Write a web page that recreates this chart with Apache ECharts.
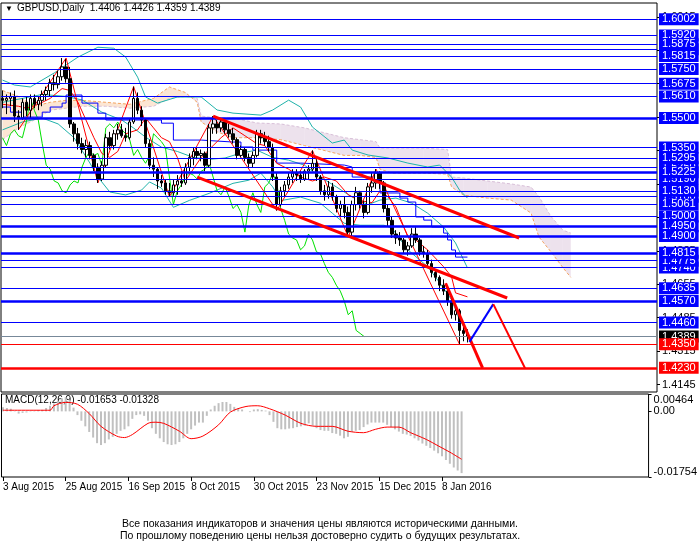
<!DOCTYPE html>
<html>
<head>
<meta charset="utf-8">
<title>GBPUSD Daily</title>
<script src="https://cdn.jsdelivr.net/npm/echarts@6.0.0/dist/echarts.min.js"></script>
<style>
html, body { margin: 0; padding: 0; background: #fff; }
#chart { width: 700px; height: 552px; }
</style>
</head>
<body>
<div id="chart"></div>
<script>
// daily bars from 3 Aug 2015: [open, high, low, close]
var ohlc = [
	[1.5600, 1.5640, 1.5550, 1.5590], [1.5590, 1.5620, 1.5520, 1.5600], [1.5600, 1.5630, 1.5560, 1.5610],
	[1.5610, 1.5640, 1.5480, 1.5510], [1.5510, 1.5540, 1.5440, 1.5500], [1.5500, 1.5600, 1.5490, 1.5580],
	[1.5580, 1.5610, 1.5510, 1.5540], [1.5540, 1.5620, 1.5500, 1.5600], [1.5600, 1.5620, 1.5550, 1.5570],
	[1.5570, 1.5610, 1.5540, 1.5590], [1.5590, 1.5640, 1.5560, 1.5620], [1.5620, 1.5660, 1.5590, 1.5640],
	[1.5640, 1.5700, 1.5610, 1.5680], [1.5680, 1.5720, 1.5640, 1.5670], [1.5670, 1.5740, 1.5650, 1.5710],
	[1.5710, 1.5805, 1.5690, 1.5760], [1.5760, 1.5800, 1.5680, 1.5700], [1.5700, 1.5760, 1.5450, 1.5470],
	[1.5470, 1.5480, 1.5380, 1.5420], [1.5420, 1.5450, 1.5340, 1.5370], [1.5370, 1.5400, 1.5320, 1.5340],
	[1.5340, 1.5390, 1.5300, 1.5360], [1.5360, 1.5380, 1.5290, 1.5310], [1.5310, 1.5320, 1.5230, 1.5250],
	[1.5250, 1.5270, 1.5170, 1.5190], [1.5190, 1.5280, 1.5180, 1.5260], [1.5260, 1.5420, 1.5250, 1.5400],
	[1.5400, 1.5430, 1.5340, 1.5360], [1.5360, 1.5440, 1.5340, 1.5420], [1.5420, 1.5470, 1.5390, 1.5440],
	[1.5440, 1.5470, 1.5400, 1.5410], [1.5410, 1.5450, 1.5380, 1.5400], [1.5400, 1.5500, 1.5390, 1.5480],
	[1.5480, 1.5660, 1.5470, 1.5600], [1.5600, 1.5630, 1.5520, 1.5540], [1.5540, 1.5560, 1.5460, 1.5490],
	[1.5490, 1.5500, 1.5350, 1.5370], [1.5370, 1.5390, 1.5240, 1.5260], [1.5260, 1.5300, 1.5200, 1.5240],
	[1.5240, 1.5250, 1.5140, 1.5180], [1.5180, 1.5210, 1.5150, 1.5170], [1.5170, 1.5190, 1.5110, 1.5130],
	[1.5130, 1.5170, 1.5100, 1.5120], [1.5120, 1.5190, 1.5105, 1.5160], [1.5160, 1.5210, 1.5110, 1.5180],
	[1.5180, 1.5230, 1.5150, 1.5170], [1.5170, 1.5270, 1.5160, 1.5250], [1.5250, 1.5320, 1.5230, 1.5300],
	[1.5300, 1.5350, 1.5260, 1.5330], [1.5330, 1.5350, 1.5290, 1.5310], [1.5310, 1.5340, 1.5280, 1.5320],
	[1.5320, 1.5330, 1.5230, 1.5260], [1.5260, 1.5470, 1.5250, 1.5450], [1.5450, 1.5510, 1.5420, 1.5470],
	[1.5470, 1.5490, 1.5420, 1.5450], [1.5450, 1.5500, 1.5430, 1.5480], [1.5480, 1.5490, 1.5420, 1.5440],
	[1.5440, 1.5470, 1.5400, 1.5420], [1.5420, 1.5450, 1.5370, 1.5390], [1.5390, 1.5400, 1.5290, 1.5310],
	[1.5310, 1.5360, 1.5300, 1.5340], [1.5340, 1.5350, 1.5280, 1.5300], [1.5300, 1.5320, 1.5245, 1.5270],
	[1.5270, 1.5330, 1.5250, 1.5310], [1.5310, 1.5440, 1.5300, 1.5420], [1.5420, 1.5440, 1.5370, 1.5400],
	[1.5400, 1.5430, 1.5360, 1.5380], [1.5380, 1.5410, 1.5330, 1.5350], [1.5350, 1.5370, 1.5180, 1.5200],
	[1.5200, 1.5220, 1.5030, 1.5060], [1.5060, 1.5150, 1.5050, 1.5130], [1.5130, 1.5180, 1.5100, 1.5160],
	[1.5160, 1.5220, 1.5140, 1.5200], [1.5200, 1.5240, 1.5170, 1.5220], [1.5220, 1.5240, 1.5180, 1.5210],
	[1.5210, 1.5230, 1.5170, 1.5190], [1.5190, 1.5240, 1.5180, 1.5230], [1.5230, 1.5260, 1.5190, 1.5240],
	[1.5240, 1.5335, 1.5230, 1.5270], [1.5270, 1.5290, 1.5180, 1.5200], [1.5200, 1.5210, 1.5110, 1.5130],
	[1.5130, 1.5160, 1.5080, 1.5110], [1.5110, 1.5180, 1.5090, 1.5150], [1.5150, 1.5170, 1.5080, 1.5100],
	[1.5100, 1.5110, 1.5020, 1.5040], [1.5040, 1.5080, 1.5000, 1.5060], [1.5060, 1.5100, 1.4990, 1.5020],
	[1.5020, 1.5050, 1.4895, 1.4920], [1.4920, 1.5080, 1.4900, 1.5060], [1.5060, 1.5150, 1.5030, 1.5120],
	[1.5120, 1.5130, 1.5040, 1.5060], [1.5060, 1.5080, 1.4990, 1.5020], [1.5020, 1.5170, 1.5010, 1.5150],
	[1.5150, 1.5220, 1.5120, 1.5170], [1.5170, 1.5240, 1.5140, 1.5220], [1.5220, 1.5230, 1.5140, 1.5170],
	[1.5170, 1.5180, 1.5020, 1.5040], [1.5040, 1.5060, 1.4950, 1.4980], [1.4980, 1.5000, 1.4890, 1.4910],
	[1.4910, 1.4930, 1.4860, 1.4890], [1.4890, 1.4920, 1.4850, 1.4880], [1.4880, 1.4890, 1.4810, 1.4830],
	[1.4830, 1.4870, 1.4800, 1.4850], [1.4850, 1.4940, 1.4840, 1.4910], [1.4910, 1.4945, 1.4865, 1.4880],
	[1.4880, 1.4890, 1.4800, 1.4820], [1.4820, 1.4850, 1.4790, 1.4810], [1.4810, 1.4830, 1.4745, 1.4760],
	[1.4760, 1.4780, 1.4690, 1.4715], [1.4715, 1.4730, 1.4670, 1.4690], [1.4690, 1.4700, 1.4620, 1.4650],
	[1.4650, 1.4680, 1.4600, 1.4620], [1.4620, 1.4630, 1.4545, 1.4570], [1.4570, 1.4580, 1.4480, 1.4500],
	[1.4500, 1.4540, 1.4470, 1.4520], [1.4520, 1.4530, 1.4350, 1.4420], [1.4420, 1.4440, 1.4365, 1.4405],
	[1.4406, 1.4426, 1.4359, 1.4389]
];

var dateTicks = [0, 16, 32, 48, 64, 80, 96, 112];
var dateLabels = ['3 Aug 2015', '25 Aug 2015', '16 Sep 2015', '8 Oct 2015', '30 Oct 2015', '23 Nov 2015', '15 Dec 2015', '8 Jan 2016'];
var priceTicks = [1.4145, 1.4315, 1.4485, 1.4655, 1.4825, 1.4995, 1.5165, 1.5335, 1.5505, 1.5675, 1.5845, 1.6015];
var macdTicks = [-0.01754, 0, 0.00464];

// horizontal levels
var blueLevels = [1.5850, 1.5250, 1.5100, 1.6002, 1.5920, 1.5875, 1.5815, 1.5750, 1.5675, 1.5610, 1.5350, 1.5295,
	1.5190, 1.5130, 1.5061, 1.5000, 1.4740, 1.4775, 1.4635, 1.4460];
var blueLevelsBold = [1.5500, 1.5225, 1.4950, 1.4900, 1.4815, 1.4570];
var redLevels = [1.4350];
var redLevelsBold = [1.4230];
var lastPrice = 1.4389;

// trend lines [bar, price]
var channelUpper = [[53, 1.5510], [130, 1.4890]];
var channelLower = [[49, 1.5200], [127, 1.4585]];
var steepLine = [[111.5, 1.4660], [120.8, 1.4230]];
var projUp = [[117.5, 1.4362], [123.5, 1.4554]];
var projDown = [[123.5, 1.4554], [131.5, 1.4228]];

var zigzag = [[4, 1.5440], [16, 1.5805], [24, 1.5170], [33, 1.5660], [42, 1.5100], [53, 1.5510], [69, 1.5030],
	[78, 1.5335], [87, 1.4895], [94, 1.5240], [115, 1.4350]];

// Bollinger bands
var bbUpper = [[0, 1.5693], [3, 1.5668], [7, 1.5658], [13, 1.5729], [19, 1.5810], [24, 1.5860], [28, 1.5855],
	[31, 1.5810], [34, 1.5708], [36, 1.5607], [39, 1.5576], [44, 1.5607], [50, 1.5607], [54, 1.5541], [58, 1.5525],
	[65, 1.5515], [68, 1.5541], [72, 1.5591], [75, 1.5556], [78, 1.5454], [83, 1.5373], [86, 1.5388], [88, 1.5337],
	[92, 1.5312], [97, 1.5297], [102, 1.5271], [107, 1.5251], [110, 1.5261], [113, 1.5200], [115, 1.5134], [117, 1.5093]];
var bbMiddle = [[0, 1.5580], [5, 1.5600], [10, 1.5620], [16, 1.5610], [20, 1.5592], [25, 1.5530], [30, 1.5490],
	[33, 1.5449], [36, 1.5403], [40, 1.5352], [44, 1.5330], [48, 1.5300], [52, 1.5290], [56, 1.5297], [60, 1.5322],
	[64, 1.5337], [68, 1.5300], [72, 1.5286], [76, 1.5260], [80, 1.5200], [84, 1.5150], [88, 1.5098], [92, 1.5060],
	[95, 1.5083], [99, 1.5093], [103, 1.5067], [107, 1.5016], [111, 1.4946], [114, 1.4865], [117, 1.4738]];
var bbLower = [[0, 1.5440], [5, 1.5480], [10, 1.5500], [14, 1.5470], [18, 1.5400], [22, 1.5271], [24, 1.5200],
	[27, 1.5124], [31, 1.5109], [35, 1.5134], [37, 1.5175], [40, 1.5144], [43, 1.5046], [47, 1.5081], [52, 1.5117],
	[58, 1.5168], [62, 1.5184], [65, 1.5220], [68, 1.5150], [70, 1.5080], [75, 1.5098], [80, 1.5067], [83, 1.5016],
	[86, 1.4965], [90, 1.4955], [96, 1.4955], [98, 1.4940], [102, 1.4830], [107, 1.4744], [110, 1.4663],
	[113, 1.4576], [115, 1.4474], [117, 1.4408]];

// Ichimoku
var tenkan = [[0, 1.5570], [4, 1.5560], [6, 1.5550], [9, 1.5570], [12, 1.5600], [15, 1.5650], [17, 1.5640],
	[19, 1.5580], [21, 1.5490], [23, 1.5400], [25, 1.5320], [27, 1.5300], [29, 1.5330], [31, 1.5420], [34, 1.5440],
	[36, 1.5500], [38, 1.5450], [40, 1.5400], [42, 1.5380], [44, 1.5300], [46, 1.5180], [48, 1.5240], [50, 1.5300],
	[53, 1.5360], [55, 1.5400], [58, 1.5450], [61, 1.5410], [64, 1.5370], [66, 1.5360], [69, 1.5270], [72, 1.5240],
	[75, 1.5200], [78, 1.5180], [81, 1.5200], [84, 1.5180], [87, 1.5110], [90, 1.5080], [93, 1.5070], [95, 1.5130],
	[97, 1.5100], [99, 1.5048], [102, 1.4896], [104, 1.4880], [107, 1.4829], [111, 1.4744], [113, 1.4693],
	[114, 1.4611], [117, 1.4591]];
var kijun = [[0, 1.5556], [2, 1.5530], [5, 1.5505], [8, 1.5505], [10, 1.5530], [12, 1.5556], [15, 1.5576],
	[16, 1.5617], [18, 1.5617], [20, 1.5576], [24, 1.5525], [26, 1.5490], [37, 1.5490], [40, 1.5474], [43, 1.5388],
	[50, 1.5378], [58, 1.5378], [60, 1.5353], [63, 1.5337], [69, 1.5271], [75, 1.5261], [86, 1.5251], [88, 1.5200],
	[94, 1.5185], [95, 1.5119], [100, 1.5093], [102, 1.5073], [104, 1.4997], [106, 1.4981], [108, 1.4946],
	[111, 1.4915], [112, 1.4880], [113, 1.4829], [114, 1.4793], [117, 1.4793]];
var cloudBars = [0, 4, 8, 12, 16, 20, 26, 32, 38, 42, 46, 49, 50, 54, 58, 64, 70, 76, 82, 86, 90, 94, 95, 98,
	106, 112, 113, 116, 122, 128, 133, 135, 138, 141, 143];
var spanA = [1.5640, 1.5610, 1.5560, 1.5580, 1.5590, 1.5590, 1.5580, 1.5570, 1.5600, 1.5658, 1.5630, 1.5580,
	1.5480, 1.5430, 1.5400, 1.5400, 1.5390, 1.5360, 1.5330, 1.5310, 1.5310, 1.5300, 1.5240, 1.5220,
	1.5220, 1.5215, 1.5150, 1.5108, 1.5093, 1.5083, 1.5017, 1.4895, 1.4820, 1.4740, 1.4690];
var spanB = [1.5390, 1.5450, 1.5490, 1.5540, 1.5550, 1.5560, 1.5560, 1.5550, 1.5560, 1.5600, 1.5610, 1.5600,
	1.5510, 1.5500, 1.5500, 1.5475, 1.5470, 1.5450, 1.5420, 1.5400, 1.5390, 1.5380, 1.5347, 1.5347,
	1.5347, 1.5340, 1.5200, 1.5195, 1.5180, 1.5165, 1.5149, 1.5100, 1.5000, 1.4930, 1.4915];
var chikouShift = 26;

// MACD(12,26,9)
var macdMain = [0.0011, 0.0009, 0.0007, 0.0001, -0.0006, -0.0004, -0.0003, -0.0001, 0.0001, 0.0003,
	0.0004, 0.0009, 0.0015, 0.0021, 0.0028, 0.0035, 0.0038, 0.0030, 0.0010, -0.0010,
	-0.0025, -0.0040, -0.0055, -0.0070, -0.0085, -0.0090, -0.0085, -0.0075, -0.0068, -0.0060,
	-0.0052, -0.0048, -0.0040, -0.0020, -0.0010, -0.0008, -0.0012, -0.0025, -0.0045, -0.0060,
	-0.0072, -0.0082, -0.0088, -0.0090, -0.0088, -0.0082, -0.0072, -0.0060, -0.0048, -0.0038,
	-0.0030, -0.0030, -0.0012, 0.0005, 0.0015, 0.0022, 0.0025, 0.0025, 0.0020, 0.0012,
	0.0008, 0.0005, 0.0000, -0.0002, 0.0005, 0.0006, 0.0004, 0.0002, -0.0010, -0.0028,
	-0.0045, -0.0048, -0.0048, -0.0046, -0.0045, -0.0042, -0.0040, -0.0038, -0.0032, -0.0038,
	-0.0045, -0.0050, -0.0052, -0.0052, -0.0058, -0.0060, -0.0065, -0.0072, -0.0068, -0.0055,
	-0.0052, -0.0050, -0.0042, -0.0035, -0.0030, -0.0030, -0.0030, -0.0030, -0.0036, -0.0042,
	-0.0048, -0.0054, -0.0060, -0.0062, -0.0066, -0.0072, -0.0078, -0.0086, -0.0092, -0.0098,
	-0.0105, -0.0112, -0.0120, -0.0130, -0.0140, -0.0150, -0.0158, -0.0165];
var macdSignal = [[0, 0.0003], [12, 0.0003], [13, 0.0015], [16, 0.0024], [19, 0.0019], [22, -0.0006],
	[25, -0.0040], [29, -0.0066], [31, -0.0070], [33, -0.0062], [37, -0.0032], [39, -0.0029], [41, -0.0032],
	[45, -0.0053], [48, -0.0073], [51, -0.0066], [55, -0.0036], [58, -0.0002], [62, 0.0013], [65, 0.0015],
	[68, 0.0007], [72, -0.0010], [76, -0.0032], [80, -0.0040], [84, -0.0040], [88, -0.0053], [92, -0.0057],
	[95, -0.0048], [98, -0.0042], [101, -0.0042], [104, -0.0057], [108, -0.0075], [111, -0.0092],
	[114, -0.0109], [117, -0.0128]];

var FONT = 'Liberation Sans';
var xMin = -0.38, xMax = 164.7;

function fmt4(v) { return v.toFixed(4); }

function level(price, color, width, boxColor) {
	return {
		yAxis: price,
		lineStyle: { color: color, width: width, type: 'solid' },
		label: { backgroundColor: boxColor || color, color: '#fff' }
	};
}

// drawn in order, later boxes sit on top
var levelData = [level(lastPrice, '#778899', 1, '#000000')];
blueLevels.forEach(function(p) { levelData.push(level(p, '#0000ff', 1)); });
blueLevelsBold.forEach(function(p) { levelData.push(level(p, '#0000ff', 2.5)); });
redLevels.forEach(function(p) { levelData.push(level(p, '#ff0000', 1)); });
redLevelsBold.forEach(function(p) { levelData.push(level(p, '#ff0000', 2.5)); });

function line(data, color, width, extra) {
	var s = {
		type: 'line',
		xAxisIndex: 0,
		yAxisIndex: 0,
		data: data,
		symbol: 'none',
		silent: true,
		lineStyle: { color: color, width: width },
		z: 3
	};
	for(var k in extra) s[k] = extra[k];
	return s;
}

var chikou = ohlc.slice(chikouShift).map(function(r, i) { return [i, r[3]]; });
var cloudData = cloudBars.slice(0, -1).map(function(b, i) { return [b, spanA[i], i]; });

var myChart = echarts.init(document.getElementById('chart'));
var last = ohlc[ohlc.length - 1];

var option = {
	backgroundColor: '#fff',
	animation: false,
	grid: [
		{ left: 1, top: 3, width: 656, height: 389, show: true, borderColor: '#000', borderWidth: 1, backgroundColor: '#fff' },
		{ left: 1, top: 394, width: 656, height: 83, show: true, borderColor: '#000', borderWidth: 1, backgroundColor: '#fff' }
	],
	xAxis: [
		{ type: 'value', gridIndex: 0, min: xMin, max: xMax, show: false },
		{
			type: 'value', gridIndex: 1, min: xMin, max: xMax,
			splitLine: { show: false },
			axisLine: { show: false, onZero: false },
			axisTick: { show: true, length: 4, customValues: dateTicks, lineStyle: { color: '#000' } },
			axisLabel: {
				customValues: dateTicks,
				formatter: function(v) { return dateLabels[dateTicks.indexOf(v)] || ''; },
				color: '#000', fontFamily: FONT, fontSize: 10, align: 'left', margin: 5
			}
		}
	],
	yAxis: [
		{
			type: 'value', gridIndex: 0, position: 'right', min: 1.4107, max: 1.6085,
			splitLine: { show: false },
			axisLine: { show: false, onZero: false },
			axisTick: { show: true, length: 3, customValues: priceTicks, lineStyle: { color: '#000' } },
			axisLabel: { customValues: priceTicks, formatter: fmt4, color: '#000', fontFamily: FONT, fontSize: 11, margin: 5 }
		},
		{
			type: 'value', gridIndex: 1, position: 'right', min: -0.01754, max: 0.00464,
			splitLine: { show: false },
			axisLine: { show: false, onZero: false },
			axisTick: { show: true, length: 3, customValues: macdTicks, lineStyle: { color: '#000' } },
			axisLabel: {
				customValues: macdTicks,
				formatter: function(v) { return v === 0 ? '0.00' : v.toFixed(5); },
				color: '#000', fontFamily: FONT, fontSize: 11, margin: 5,
				verticalAlignMaxLabel: 'top', verticalAlignMinLabel: 'bottom'
			}
		}
	],
	graphic: [
		{ type: 'text', left: 5, top: 5, style: { text: '▼', fontSize: 8, fill: '#000' } },
		{
			type: 'text', left: 17, top: 3,
			style: {
				text: 'GBPUSD,Daily  ' + last.map(fmt4).join(' '),
				fontFamily: FONT, fontSize: 10, fill: '#000'
			}
		},
		{
			type: 'text', left: 5, top: 395,
			style: { text: 'MACD(12,26,9) -0.01653 -0.01328', fontFamily: FONT, fontSize: 10, fill: '#000' }
		},
		{
			type: 'text', x: 320, y: 519,
			style: {
				text: 'Все показания индикаторов и значения цены являются историческими данными.',
				fontFamily: FONT, fontSize: 10.5, fill: '#000', textAlign: 'center'
			}
		},
		{
			type: 'text', x: 320, y: 531,
			style: {
				text: 'По прошлому поведению цены нельзя достоверно судить о будущих результатах.',
				fontFamily: FONT, fontSize: 10.5, fill: '#000', textAlign: 'center'
			}
		}
	],
	series: [
		// kumo
		{
			type: 'custom',
			xAxisIndex: 0,
			yAxisIndex: 0,
			data: cloudData,
			silent: true,
			z: 1,
			renderItem: function(params, api) {
				var i = api.value(2);
				var a0 = api.coord([cloudBars[i], spanA[i]]);
				var a1 = api.coord([cloudBars[i + 1], spanA[i + 1]]);
				var b1 = api.coord([cloudBars[i + 1], spanB[i + 1]]);
				var b0 = api.coord([cloudBars[i], spanB[i]]);
				var up = spanA[i] + spanA[i + 1] > spanB[i] + spanB[i + 1];
				return {
					type: 'polygon',
					shape: { points: [a0, a1, b1, b0] },
					style: { fill: up ? 'rgba(244,164,96,0.28)' : 'rgba(216,191,216,0.45)' }
				};
			}
		},
		line(cloudBars.map(function(b, i) { return [b, spanA[i]]; }), '#f4a460', 1, { lineStyle: { color: '#f4a460', width: 1, type: [3, 2] } }),
		line(cloudBars.map(function(b, i) { return [b, spanB[i]]; }), '#d8bfd8', 1, { lineStyle: { color: '#d8bfd8', width: 1, type: [3, 2] } }),
		line(bbUpper, '#20b2aa', 1),
		line(bbMiddle, '#20b2aa', 1),
		line(bbLower, '#20b2aa', 1),
		line(chikou, '#00e000', 1),
		line(kijun, '#0000ff', 1, { step: 'end' }),
		line(tenkan, '#ff0000', 1),
		line(zigzag, '#ff0000', 1),
		{
			type: 'candlestick',
			xAxisIndex: 0,
			yAxisIndex: 0,
			data: ohlc.map(function(r, i) { return [i, r[0], r[3], r[2], r[1]]; }),
			encode: { x: 0, y: [1, 2, 3, 4] },
			barWidth: 3,
			silent: true,
			z: 4,
			itemStyle: { color: '#fff', color0: '#000', borderColor: '#000', borderColor0: '#000', borderWidth: 1 },
			markLine: {
				silent: true,
				symbol: ['none', 'none'],
				animation: false,
				precision: 4,
				label: {
					show: true,
					position: 'end',
					distance: 2,
					formatter: function(p) { return fmt4(p.value); },
					fontFamily: FONT,
					fontSize: 11,
					lineHeight: 11,
					padding: [1, 3, 0, 3]
				},
				data: levelData
			}
		},
		line(channelUpper, '#ff0000', 3, { z: 6 }),
		line(channelLower, '#ff0000', 3, { z: 6 }),
		line(steepLine, '#ff0000', 3, { z: 6 }),
		line(projUp, '#0000ff', 2, { z: 6 }),
		line(projDown, '#ff0000', 2, { z: 6 }),
		{
			type: 'bar',
			xAxisIndex: 1,
			yAxisIndex: 1,
			data: macdMain.map(function(v, i) { return [i, v]; }),
			barWidth: 2,
			silent: true,
			itemStyle: { color: '#c0c0c0' }
		},
		{
			type: 'line',
			xAxisIndex: 1,
			yAxisIndex: 1,
			data: macdSignal,
			symbol: 'none',
			silent: true,
			smooth: 0.3,
			lineStyle: { color: '#ff0000', width: 1 }
		}
	]
};

myChart.setOption(option);

window.onresize = function() {
	myChart.resize();
};
</script>
</body>
</html>
